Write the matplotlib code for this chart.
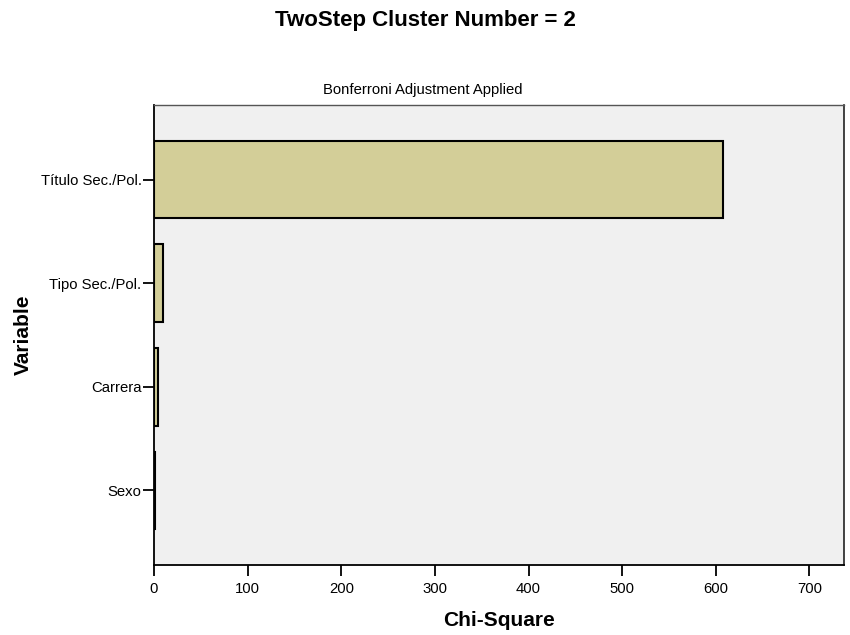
import matplotlib.pyplot as plt

# Chi-square importance per variable
variables = ['Título Sec./Pol.', 'Tipo Sec./Pol.', 'Carrera', 'Sexo']
chi_square = [608, 9.5, 4.5, 0.8]
x_ticks = [0, 100, 200, 300, 400, 500, 600, 700]

plt.rcParams['font.family'] = ['Liberation Sans', 'DejaVu Sans']

fig = plt.figure(figsize=(8.5, 6.35), dpi=100)
ax = fig.add_axes([0.1812, 0.1102, 0.8118, 0.7244])
ax.set_facecolor('#F0F0F0')

ypos = list(range(len(variables)))
ax.barh(ypos, chi_square, height=0.75, color='#D3CE98',
        edgecolor='black', linewidth=1.5)

ax.set_ylim(len(variables) - 0.28, -0.72)
ax.set_yticks(ypos)
ax.set_yticklabels(variables, fontsize=10.7)
ax.set_xlim(0, 737)
ax.set_xticks(x_ticks)
ax.set_xticklabels([str(t) for t in x_ticks], fontsize=10.7)
ax.tick_params(axis='x', length=8, width=1.3, color='black', pad=4)
ax.tick_params(axis='y', length=8, width=1.3, color='black', pad=1)

# frame: heavy axes on left/bottom, lighter box on top/right
ax.spines['top'].set_linewidth(1.0)
ax.spines['top'].set_color('#555555')
ax.spines['right'].set_linewidth(1.2)
ax.spines['right'].set_color('#222222')
for side in ['left', 'bottom']:
    ax.spines[side].set_linewidth(1.3)

ax.set_xlabel('Chi-Square', fontsize=15, fontweight='bold', va='center')
ax.xaxis.set_label_coords(0.5, -0.1196)
ax.set_ylabel('Variable', fontsize=15, fontweight='bold', va='center')
ax.yaxis.set_label_coords(-0.19, 0.5)

fig.text(0.497, 0.858, 'Bonferroni Adjustment Applied', fontsize=10.7,
         ha='center', va='center')
fig.suptitle('TwoStep Cluster Number = 2', fontsize=16, fontweight='bold',
             y=0.9685, va='center')

plt.savefig('out.png', dpi=100)
